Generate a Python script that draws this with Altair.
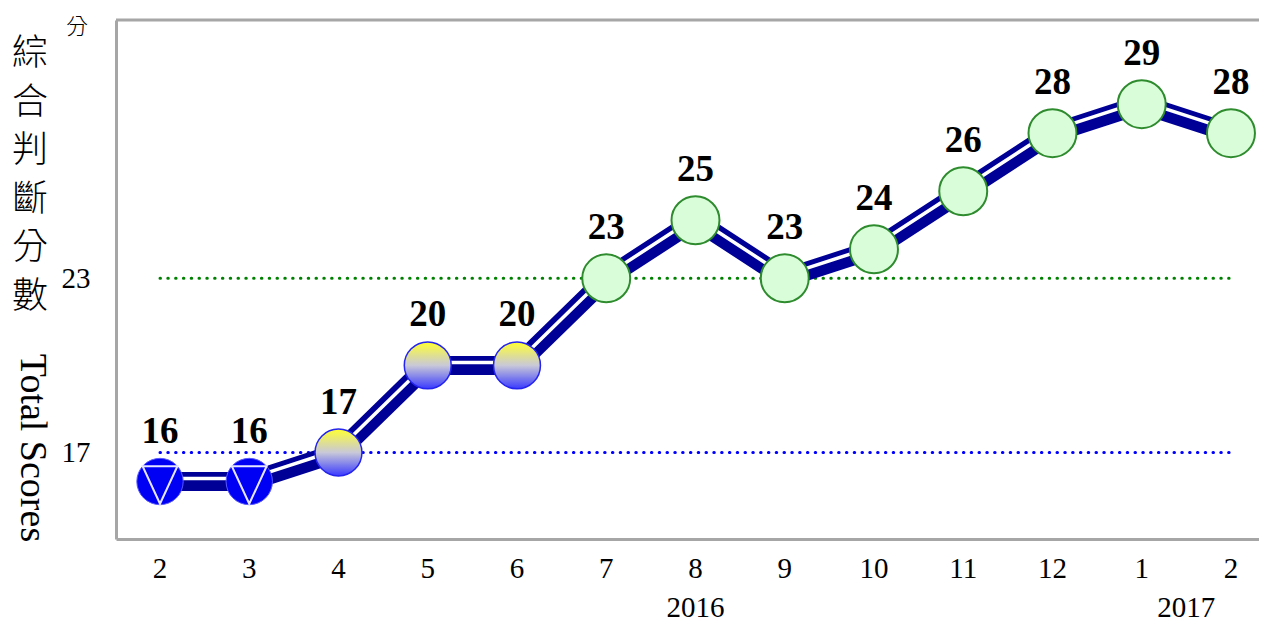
import altair as alt
import pandas as pd

# ---- data ----
months = ["2", "3", "4", "5", "6", "7", "8", "9", "10", "11", "12", "1", "2"]
scores = [16, 16, 17, 20, 20, 23, 25, 23, 24, 26, 28, 29, 28]
years = ["2016", "2017"]
year_at = [6, 11.5]          # index position of the year label under the month axis
ref_levels = [17, 23]
ref_colors = ["#0000ff", "#008000"]
title_zh = ["綜", "合", "判", "斷", "分", "數"]
title_en = "Total Scores"
unit_label = "分"

# ---- layout ----
W, H = 1143, 519
BORDER = "#a6a6a6"
SERIF = "Liberation Serif"
CJK = "Noto Sans CJK TC"

df = pd.DataFrame({"i": list(range(len(scores))), "month": months, "score": scores})


def signal(s):
    if s < ref_levels[0]:
        return "blue"
    if s < ref_levels[1]:
        return "yellowblue"
    return "green"


df["signal"] = [signal(s) for s in scores]

ref_df = pd.DataFrame({"level": ref_levels, "x0": [0] * len(ref_levels),
                       "x1": [len(scores) - 1] * len(ref_levels)})
year_df = pd.DataFrame({"year": years, "pos": year_at})
one = pd.DataFrame({"a": [0]})

xs = alt.Scale(domain=[-0.493, 12.314], nice=False, zero=False)
ys = alt.Scale(domain=[14.02, 31.9], nice=False, zero=False)
x_axis = alt.Axis(labels=False, ticks=False, grid=False, title=None,
                  domainColor=BORDER, domainWidth=3)
y_axis = alt.Axis(values=ref_levels, ticks=False, grid=False, title=None,
                  labelFont=SERIF, labelFontSize=29, labelColor="black",
                  labelPadding=26, domainColor=BORDER, domainWidth=3)

X = alt.X("i:Q", scale=xs, axis=x_axis)
Y = alt.Y("score:Q", scale=ys, axis=y_axis)

base = alt.Chart(df)

refs = alt.Chart(ref_df).mark_rule(strokeDash=[0.5, 7.3], strokeWidth=3, strokeCap="round").encode(
    x=alt.X("x0:Q", scale=xs, axis=x_axis),
    x2="x1:Q",
    y=alt.Y("level:Q", scale=ys, axis=y_axis),
    color=alt.Color("level:N", scale=alt.Scale(domain=ref_levels, range=ref_colors), legend=None),
)

navy = base.mark_line(color="#000096", strokeWidth=19, strokeJoin="round").encode(x=X, y=Y)
white = base.mark_line(color="white", strokeWidth=3.5, yOffset=-3, strokeJoin="round").encode(x=X, y=Y)

blue_pts = base.transform_filter(alt.datum.signal == "blue").mark_point(
    shape="circle", filled=True, fill="#0000f5", stroke="#5a5aff", strokeWidth=1,
    size=2150, opacity=1).encode(x=X, y=Y)
blue_tri = base.transform_filter(alt.datum.signal == "blue").mark_point(
    shape="M-0.75,-0.66L0.75,-0.66L0,0.96Z", filled=False, stroke="#e6e6ff",
    strokeWidth=2, size=2150, opacity=1).encode(x=X, y=Y)

grad = alt.Gradient(
    gradient="linear",
    stops=[alt.GradientStop(color="#ffff33", offset=0),
           alt.GradientStop(color="#c8c8d8", offset=0.5),
           alt.GradientStop(color="#3a3aff", offset=1)],
    x1=0, x2=0, y1=0, y2=1)
yb_pts = base.transform_filter(alt.datum.signal == "yellowblue").mark_point(
    shape="circle", filled=True, fill=grad, stroke="#2424ee", strokeWidth=1.5,
    size=2200, opacity=1).encode(x=X, y=Y)

green_pts = base.transform_filter(alt.datum.signal == "green").mark_point(
    shape="circle", filled=True, fill="#d9fdd9", stroke="#2e8b2e", strokeWidth=2,
    size=2300, opacity=1).encode(x=X, y=Y)

labels = base.mark_text(font=SERIF, fontWeight="bold", fontSize=37, dy=-50,
                        baseline="middle", color="black").encode(x=X, y=Y, text="score:Q")

month_txt = base.mark_text(font=SERIF, fontSize=29, baseline="middle", color="black").encode(
    x=X, y=alt.value(549), text="month:N")

year_txt = alt.Chart(year_df).mark_text(font=SERIF, fontSize=29, baseline="middle", color="black").encode(
    x=alt.X("pos:Q", scale=xs, axis=x_axis), y=alt.value(588), text="year:N")

top_border = alt.Chart(one).mark_rule(color=BORDER, strokeWidth=3).encode(
    x=alt.value(0), x2=alt.value(W), y=alt.value(0))

zh = alt.Chart(one).mark_text(text=title_zh, lineHeight=48.5, font=CJK, fontSize=36, fontWeight=300,
                              baseline="top", align="center", color="black").encode(
    x=alt.value(-86), y=alt.value(17))
en = alt.Chart(one).mark_text(text=title_en, angle=90, font=SERIF, fontSize=38,
                              align="center", baseline="middle", color="black").encode(
    x=alt.value(-84), y=alt.value(428))
unit = alt.Chart(one).mark_text(text=unit_label, font=CJK, fontSize=22, fontWeight=300,
                                align="center", baseline="middle", color="black").encode(
    x=alt.value(-39), y=alt.value(7))

chart = alt.layer(
    refs, navy, white, blue_pts, blue_tri, yb_pts, green_pts, labels,
    month_txt, year_txt, top_border, zh, en, unit
).properties(
    width=W, height=H,
    padding={"left": 108, "top": 12, "right": 0, "bottom": 84},
    autosize=alt.AutoSizeParams(type="none"),
).configure_view(stroke=None)

chart.save("out.html", embed_options={"renderer": "svg", "actions": False})
